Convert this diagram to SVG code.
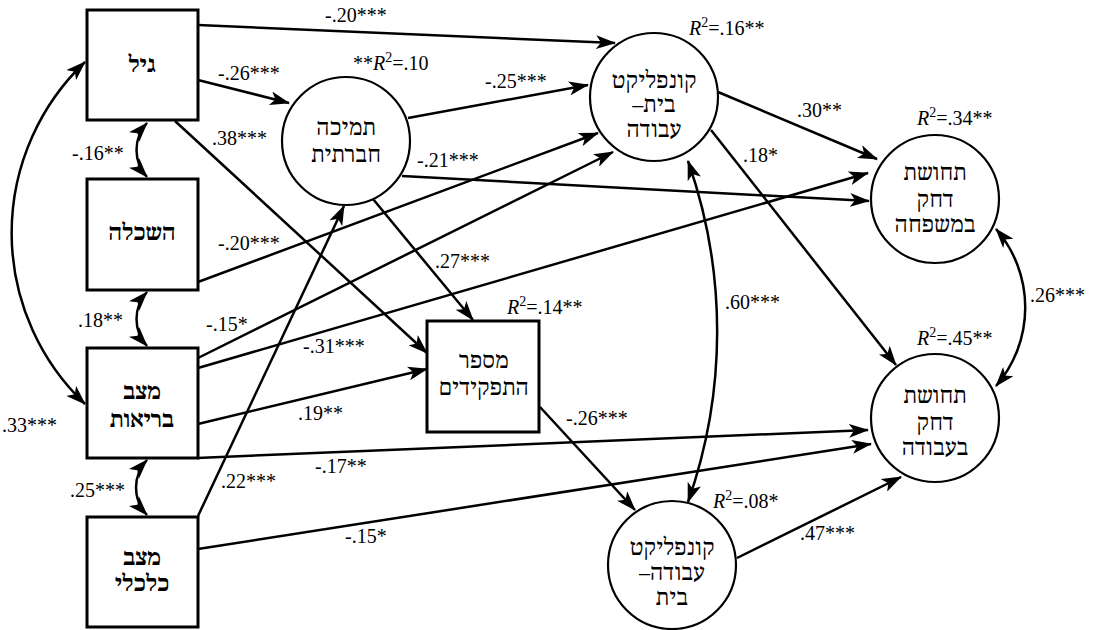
<svg xmlns="http://www.w3.org/2000/svg" width="1098" height="630" viewBox="0 0 1098 630">
<style>
.box{fill:#fff;stroke:#000;stroke-width:3}
.circ{fill:#fff;stroke:#000;stroke-width:2.2}
.nt{font-family:"Noto Serif Hebrew","Liberation Serif","Noto Sans Hebrew","DejaVu Sans",serif;font-size:22px;font-weight:bold;text-anchor:middle;direction:rtl;fill:#000}
.ct{font-family:"Noto Serif Hebrew","Liberation Serif","Noto Sans Hebrew","DejaVu Sans",serif;font-size:22px;font-weight:normal;text-anchor:middle;direction:rtl;fill:#000}
.lb{font-family:"Liberation Serif","Times New Roman",serif;font-size:20px;fill:#000}
.ln{fill:none;stroke:#000;stroke-width:2.5;marker-end:url(#ah)}
.dbl{fill:none;stroke:#000;stroke-width:2.5;marker-start:url(#ah);marker-end:url(#ah)}
</style>
<defs>
<marker id="ah" markerUnits="userSpaceOnUse" viewBox="0 0 20 14" markerWidth="20" markerHeight="14" refX="19" refY="7" orient="auto-start-reverse">
<path d="M0,0 L20,7 L0,14 L5,7 Z" fill="#000"/>
</marker>
</defs>
<rect width="1098" height="630" fill="#fff"/>

<g id="connectors">
<line class="ln" x1="198" y1="25" x2="615" y2="43"/>
<line class="ln" x1="198" y1="80" x2="289" y2="103"/>
<line class="ln" x1="175" y1="121" x2="427" y2="353"/>
<line class="ln" x1="408" y1="118" x2="588" y2="85"/>
<line class="ln" x1="402" y1="176" x2="869" y2="201"/>
<line class="ln" x1="373" y1="199" x2="473" y2="320"/>
<line class="ln" x1="198" y1="282" x2="598" y2="133"/>
<line class="ln" x1="198" y1="358" x2="613" y2="152"/>
<line class="ln" x1="198" y1="368" x2="868" y2="173"/>
<line class="ln" x1="198" y1="424" x2="427" y2="369"/>
<line class="ln" x1="197" y1="458" x2="868" y2="430"/>
<line class="ln" x1="198" y1="516" x2="344" y2="206"/>
<line class="ln" x1="198" y1="549" x2="871" y2="444"/>
<line class="ln" x1="718" y1="92" x2="877" y2="159"/>
<line class="ln" x1="711" y1="130" x2="896" y2="365"/>
<line class="ln" x1="540" y1="407" x2="635" y2="510"/>
<line class="ln" x1="737" y1="558" x2="901" y2="477"/>
<path class="dbl" d="M85,62 A236,236 0 0 0 85,404"/>
<path class="dbl" d="M147,123 A40,40 0 0 0 147,177"/>
<path class="dbl" d="M147,292 A40,40 0 0 0 147,346"/>
<path class="dbl" d="M147,460 A40,40 0 0 0 147,515"/>
<path class="dbl" d="M688,161 A513,513 0 0 1 688,502"/>
<path class="dbl" d="M996,229 A120,120 0 0 1 996,386"/>
</g>

<g id="n-age">
<rect class="box" x="87" y="10" width="111" height="110"/>
<text class="nt" x="142" y="72">גיל</text>
</g>
<g id="n-education">
<rect class="box" x="87" y="179" width="111" height="111"/>
<text class="nt" x="142" y="240">השכלה</text>
</g>
<g id="n-health">
<rect class="box" x="87" y="348" width="111" height="110"/>
<text class="nt" x="142" y="399">מצב</text>
<text class="nt" x="142" y="427">בריאות</text>
</g>
<g id="n-economic">
<rect class="box" x="87" y="517" width="111" height="110"/>
<text class="nt" x="142" y="565">מצב</text>
<text class="nt" x="142" y="591">כלכלי</text>
</g>
<g id="n-support">
<circle class="circ" cx="346" cy="141" r="64"/>
<text class="ct" x="346" y="135">תמיכה</text>
<text class="ct" x="346" y="162">חברתית</text>
</g>
<g id="n-roles">
<rect class="box" x="427" y="321" width="112" height="111"/>
<text class="ct" x="484" y="368">מספר</text>
<text class="ct" x="484" y="395">התפקידים</text>
</g>
<g id="n-fwc">
<circle class="circ" cx="654" cy="97" r="64"/>
<text class="ct" x="654" y="88">קונפליקט</text>
<text class="ct" x="654" y="112">בית–</text>
<text class="ct" x="654" y="137">עבודה</text>
</g>
<g id="n-wfc">
<circle class="circ" cx="672" cy="565" r="64"/>
<text class="ct" x="672" y="555">קונפליקט</text>
<text class="ct" x="672" y="580">עבודה–</text>
<text class="ct" x="672" y="605">בית</text>
</g>
<g id="n-stress-family">
<circle class="circ" cx="935" cy="199" r="64"/>
<text class="ct" x="935" y="180">תחושת</text>
<text class="ct" x="935" y="207">דחק</text>
<text class="ct" x="935" y="232">במשפחה</text>
</g>
<g id="n-stress-work">
<circle class="circ" cx="935" cy="418" r="64"/>
<text class="ct" x="935" y="403">תחושת</text>
<text class="ct" x="935" y="430">דחק</text>
<text class="ct" x="935" y="455">בעבודה</text>
</g>

<g id="labels">
<text class="lb" x="325" y="22">-.20***</text>
<text class="lb" x="353" y="70">**<tspan font-style="italic">R</tspan><tspan font-size="14" dy="-8">2</tspan><tspan dy="8">=.10</tspan></text>
<text class="lb" x="218" y="80">-.26***</text>
<text class="lb" x="212" y="145">.38***</text>
<text class="lb" x="72" y="160">-.16**</text>
<text class="lb" x="218" y="250">-.20***</text>
<text class="lb" x="417" y="167">-.21***</text>
<text class="lb" x="485" y="88">-.25***</text>
<text class="lb" x="689" y="35"><tspan font-style="italic">R</tspan><tspan font-size="14" dy="-8">2</tspan><tspan dy="8">=.16**</tspan></text>
<text class="lb" x="797" y="117">.30**</text>
<text class="lb" x="743" y="162">.18*</text>
<text class="lb" x="435" y="268">.27***</text>
<text class="lb" x="507" y="314"><tspan font-style="italic">R</tspan><tspan font-size="14" dy="-8">2</tspan><tspan dy="8">=.14**</tspan></text>
<text class="lb" x="725" y="309">.60***</text>
<text class="lb" x="917" y="125"><tspan font-style="italic">R</tspan><tspan font-size="14" dy="-8">2</tspan><tspan dy="8">=.34**</tspan></text>
<text class="lb" x="1030" y="302">.26***</text>
<text class="lb" x="917" y="345"><tspan font-style="italic">R</tspan><tspan font-size="14" dy="-8">2</tspan><tspan dy="8">=.45**</tspan></text>
<text class="lb" x="713" y="508"><tspan font-style="italic">R</tspan><tspan font-size="14" dy="-8">2</tspan><tspan dy="8">=.08*</tspan></text>
<text class="lb" x="800" y="540">.47***</text>
<text class="lb" x="566" y="425">-.26***</text>
<text class="lb" x="78" y="327">.18**</text>
<text class="lb" x="206" y="331">-.15*</text>
<text class="lb" x="303" y="353">-.31***</text>
<text class="lb" x="298" y="420">.19**</text>
<text class="lb" x="2" y="432">.33***</text>
<text class="lb" x="315" y="473">-.17**</text>
<text class="lb" x="70" y="497">.25***</text>
<text class="lb" x="221" y="488">.22***</text>
<text class="lb" x="345" y="543">-.15*</text>
</g>
</svg>
